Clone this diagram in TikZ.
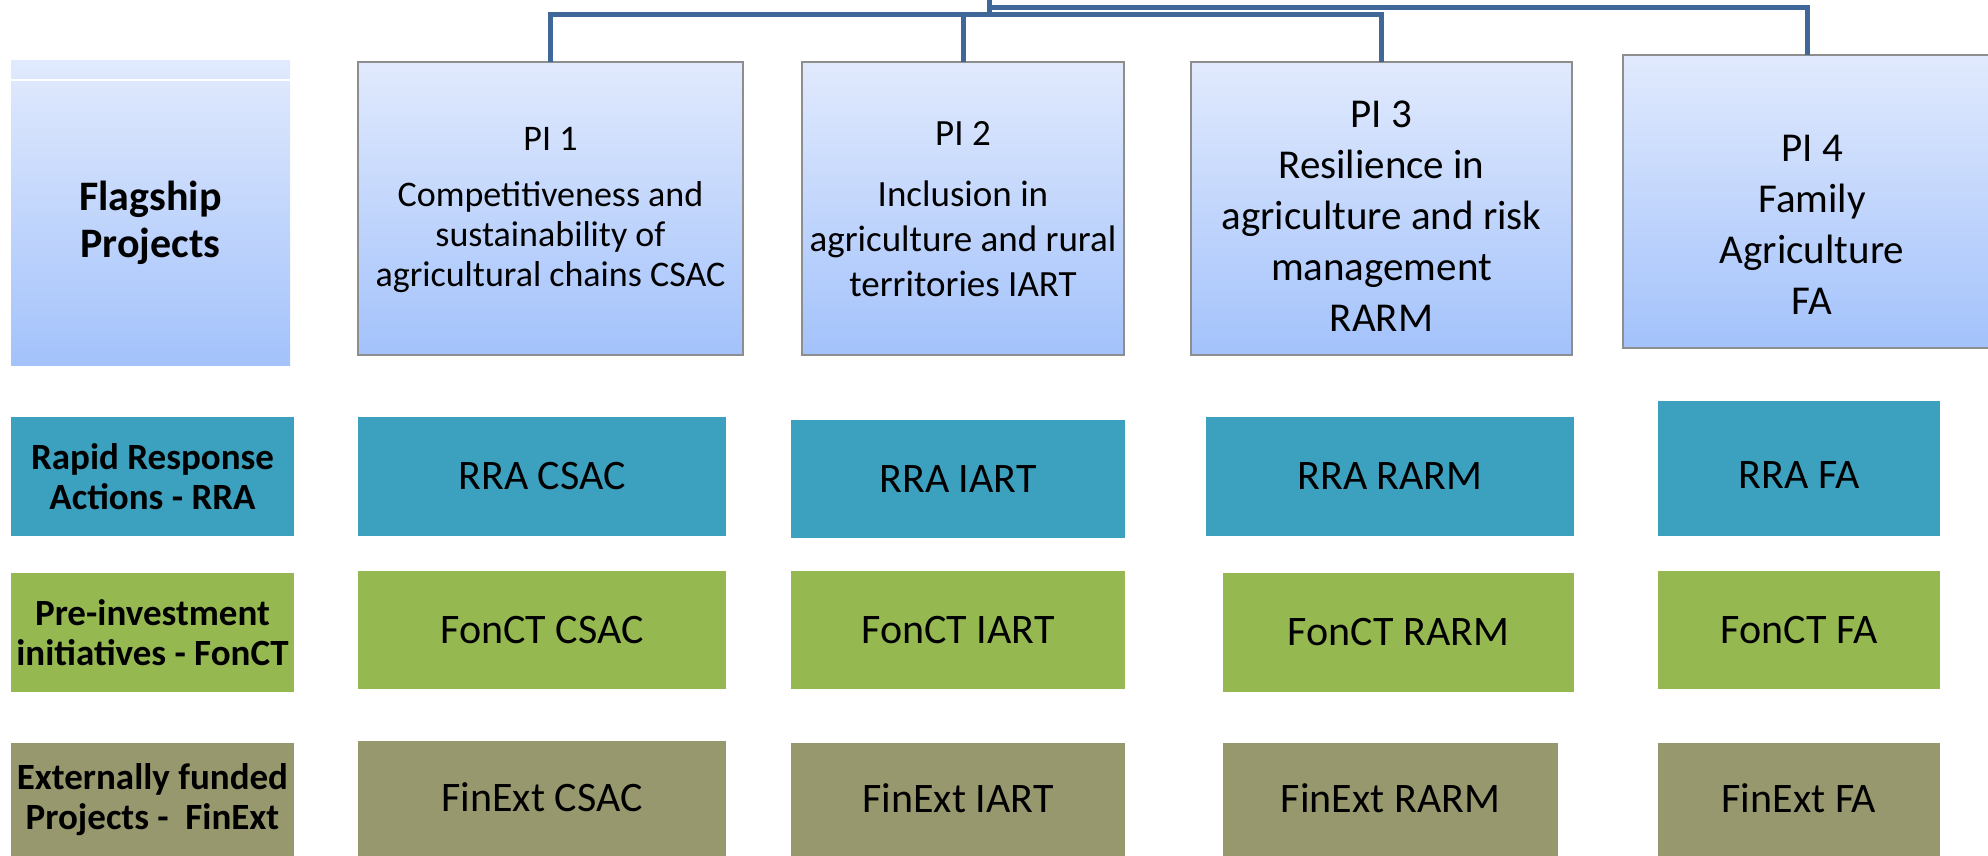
\documentclass[tikz,border=0pt]{standalone}
\usepackage{fontspec}
\setmainfont{Carlito}
\definecolor{gtop}{HTML}{E1EAFD}
\definecolor{gbot}{HTML}{A3C2FB}
\definecolor{boxgray}{HTML}{8E8E8E}
\definecolor{conncol}{HTML}{3F6898}
\definecolor{rracol}{HTML}{3CA0BF}
\definecolor{foncol}{HTML}{96B851}
\definecolor{fincol}{HTML}{98986E}
\tikzset{
  shadebox/.style={top color=gtop, bottom color=gbot, inner sep=0pt, outer sep=0pt},
  pibox/.style={shadebox, draw=boxgray, line width=0.75pt},
  pitxt/.style={align=center, inner sep=0pt},
  rowbox/.style={inner sep=0pt, outer sep=0pt, text height=13.3pt, text depth=0pt,
                 font=\fontsize{21pt}{25pt}\selectfont},
  rrabox/.style={rowbox, fill=rracol},
  fonbox/.style={rowbox, fill=foncol},
  finbox/.style={rowbox, fill=fincol},
  lblbox/.style={inner sep=0pt, outer sep=0pt, align=center,
                 font=\bfseries\fontsize{18.5pt}{20pt}\selectfont},
  conn/.style={draw=conncol, line width=2.5pt},
}
\begin{document}
\begin{tikzpicture}[x=0.5pt,y=-0.5pt]
\useasboundingbox (0,0) rectangle (1988,856);
% header row
\node[shadebox, minimum width=139.5pt, minimum height=152pt] (flag) at (150.5,213) {};
\fill[white] (11,79) rectangle (290,81.5);
\node[pitxt, font=\bfseries\fontsize{21pt}{23.5pt}\selectfont] (flagt) at (150.5,223) {Flagship\\Projects};
\node[pibox, minimum width=192.5pt, minimum height=146.5pt] (pi1) at (550.5,208.5) {};
\node[pibox, minimum width=161pt, minimum height=146.5pt] (pi2) at (963,208.5) {};
\node[pibox, minimum width=190.5pt, minimum height=146.5pt] (pi3) at (1381.5,208.5) {};
\node[pibox, minimum width=184pt, minimum height=146.5pt] (pi4) at (1807,201.5) {};
\node[pitxt, font=\fontsize{18pt}{20pt}\selectfont] (pi1t) at (550.5,210.5)
  {PI 1\\[8pt]Competitiveness and\\sustainability of\\agricultural chains CSAC};
\node[pitxt, font=\fontsize{18.5pt}{22.5pt}\selectfont] (pi2t) at (963,209.5)
  {PI 2\\[8pt]Inclusion in\\agriculture and rural\\territories IART};
\node[pitxt, font=\fontsize{20.5pt}{25.5pt}\selectfont] (pi3t) at (1381.5,216)
  {PI 3\\Resilience in\\agriculture and risk\\management\\RARM};
\node[pitxt, font=\fontsize{20.5pt}{25.5pt}\selectfont] (pi4t) at (1812,225)
  {PI 4\\Family\\Agriculture\\FA};
% connectors
\coordinate (root) at (989,-10);
\coordinate (bus1) at (989,7.5);
\coordinate (bus2) at (989,14.5);
\draw[conn] (root) -- (bus1) -| (pi4.north);
\draw[conn] (bus1) -- (bus2);
\draw[conn] (bus2) -| (pi1.north);
\draw[conn] (bus2) -| (pi2.north);
\draw[conn] (bus2) -| (pi3.north);
% RRA row
\node[lblbox, fill=rracol, minimum width=141.5pt, minimum height=59.5pt] (rraL) at (152.5,476.5) {Rapid Response\\Actions - RRA};
\node[rrabox, minimum width=184pt, minimum height=59.5pt] (rra1) at (542,476.5) {RRA CSAC};
\node[rrabox, minimum width=167pt, minimum height=59pt] (rra2) at (958,479) {RRA IART};
\node[rrabox, minimum width=184pt, minimum height=59.5pt] (rra3) at (1390,476.5) {RRA RARM};
\node[rrabox, minimum width=141pt, minimum height=67.5pt, text height=19.8pt] (rra4) at (1799,468.5) {RRA FA};
% FonCT row
\node[lblbox, fill=foncol, minimum width=141.5pt, minimum height=59.5pt] (fonL) at (152.5,632.5) {Pre-investment\\initiatives - FonCT};
\node[fonbox, minimum width=184pt, minimum height=59pt] (fon1) at (542,630) {FonCT CSAC};
\node[fonbox, minimum width=167pt, minimum height=59pt] (fon2) at (958,630) {FonCT IART};
\node[fonbox, minimum width=175.5pt, minimum height=59.5pt] (fon3) at (1398.5,632.5) {FonCT RARM};
\node[fonbox, minimum width=141pt, minimum height=59pt] (fon4) at (1799,630) {FonCT FA};
% FinExt row
\node[lblbox, fill=fincol, minimum width=141.5pt, minimum height=56.5pt] (finL) at (152.5,799.5) {Externally funded\\Projects - \ FinExt};
\node[finbox, minimum width=184pt, minimum height=57.5pt] (fin1) at (542,798.5) {FinExt CSAC};
\node[finbox, minimum width=167pt, minimum height=56.5pt] (fin2) at (958,799.5) {FinExt IART};
\node[finbox, minimum width=167.5pt, minimum height=56.5pt] (fin3) at (1390.5,799.5) {FinExt RARM};
\node[finbox, minimum width=141pt, minimum height=56.5pt] (fin4) at (1799,799.5) {FinExt FA};
\end{tikzpicture}
\end{document}
